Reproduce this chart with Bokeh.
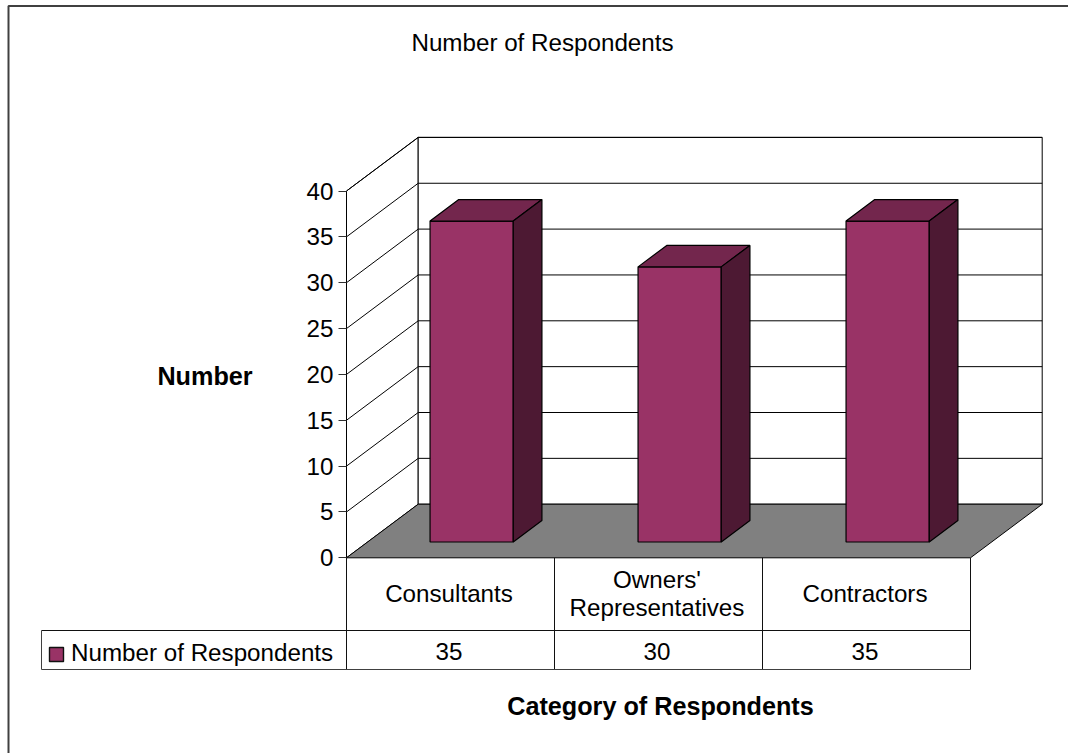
from bokeh.embed import file_html
from bokeh.models import FixedTicker, LinearAxis, Range1d
from bokeh.plotting import figure
from bokeh.resources import INLINE
from bokeh.core.properties import value

# Chart content
categories = ["Consultants", "Owners'\nRepresentatives", "Contractors"]
respondents = [35, 30, 35]
series_name = "Number of Respondents"
y_ticks = [0, 5, 10, 15, 20, 25, 30, 35, 40]
title = "Number of Respondents"
y_title = "Number"
x_title = "Category of Respondents"

# Colours
BAR_FRONT = "#993366"
BAR_SIDE = "#4d1933"
BAR_TOP = "#73264d"
FLOOR = "#808080"
INK = "#000000"
FONT = value("Liberation Sans")

# Page size and the oblique box: one category and one value unit in pixels
W, H = 1068, 753
LEFT, ZERO_Y = 346.0, 557.3
CAT_PX, UNIT_PX = 208.0, 9.17
DEPTH_X, DEPTH_Y = 71.7 / CAT_PX, 53.6 / UNIT_PX
BAR_WIDTH, BAR_D0, BAR_D1 = 0.40, 0.295, 0.695
N = len(categories)
Y_MAX = y_ticks[-1]


def project(x, v, d):
    """Oblique projection: d runs from the front (0) to the back wall (1)."""
    return x + d * DEPTH_X, v + d * DEPTH_Y


def quad(corners):
    pts = [project(*c) for c in corners]
    return [p[0] for p in pts], [p[1] for p in pts]


p = figure(
    width=W, height=H, output_backend="svg", toolbar_location=None,
    x_range=Range1d(-LEFT / CAT_PX, (W - LEFT) / CAT_PX),
    y_range=Range1d((ZERO_Y - H) / UNIT_PX, ZERO_Y / UNIT_PX),
    min_border=0, outline_line_color=None, background_fill_color="white",
    border_fill_color="white", x_axis_type=None, y_axis_type=None,
)
p.grid.visible = False

# Second coordinate system in page pixels, for the table and the titles
p.extra_x_ranges["page"] = Range1d(0, W)
p.extra_y_ranges["page"] = Range1d(H, 0)
page = dict(x_range_name="page", y_range_name="page")

# Chart-area border (top and left edges)
p.line([8, 8, W], [H, 5.5, 5.5], line_color="#404040", line_width=2, **page)

# Side wall and back wall
xs, ys = quad([(0, 0, 0), (0, 0, 1), (0, Y_MAX, 1), (0, Y_MAX, 0)])
p.patch(xs, ys, fill_color="white", line_color=INK, line_width=1)
xs, ys = quad([(0, 0, 1), (N, 0, 1), (N, Y_MAX, 1), (0, Y_MAX, 1)])
p.patch(xs, ys, fill_color="white", line_color=INK, line_width=1)

# Gridlines run across the side wall and along the back wall
for t in y_ticks[1:]:
    xs = [project(0, t, 0)[0], project(0, t, 1)[0], project(N, t, 1)[0]]
    ys = [project(0, t, 0)[1], project(0, t, 1)[1], project(N, t, 1)[1]]
    p.line(xs, ys, line_color=INK, line_width=1)

# Floor
xs, ys = quad([(0, 0, 0), (N, 0, 0), (N, 0, 1), (0, 0, 1)])
p.patch(xs, ys, fill_color=FLOOR, line_color=INK, line_width=1)

# Bars: front, top and side faces
for i, v in enumerate(respondents):
    x0 = i + 0.5 - BAR_WIDTH / 2
    x1 = i + 0.5 + BAR_WIDTH / 2
    xs, ys = quad([(x0, 0, BAR_D0), (x1, 0, BAR_D0), (x1, v, BAR_D0), (x0, v, BAR_D0)])
    p.patch(xs, ys, fill_color=BAR_FRONT, line_color=INK, line_width=1.2)
    xs, ys = quad([(x0, v, BAR_D0), (x1, v, BAR_D0), (x1, v, BAR_D1), (x0, v, BAR_D1)])
    p.patch(xs, ys, fill_color=BAR_TOP, line_color=INK, line_width=1.2)
    xs, ys = quad([(x1, 0, BAR_D0), (x1, 0, BAR_D1), (x1, v, BAR_D1), (x1, v, BAR_D0)])
    p.patch(xs, ys, fill_color=BAR_SIDE, line_color=INK, line_width=1.2)

# Value axis standing at the front-left corner of the box
axis = LinearAxis(
    fixed_location=0, bounds=(y_ticks[0], y_ticks[-1]),
    ticker=FixedTicker(ticks=y_ticks),
    major_tick_in=0, major_tick_out=8, minor_tick_in=0, minor_tick_out=0,
    major_tick_line_color="#303030", axis_line_color=INK,
    major_label_text_font="Liberation Sans", major_label_text_font_size="24.2px",
    major_label_text_color=INK, major_label_standoff=5,
)
p.add_layout(axis, "left")

# Data table under the floor
ROW_TOP, ROW_MID, ROW_BOTTOM = 557.3, 630.0, 669.0
TABLE_LEFT = 41.0
col_x = [LEFT + CAT_PX * i for i in range(N + 1)]
for cx in col_x:
    p.line([cx, cx], [ROW_TOP, ROW_BOTTOM], line_color="#111111", line_width=1, **page)
p.line([TABLE_LEFT, col_x[-1]], [ROW_MID, ROW_MID], line_color="#111111", line_width=1, **page)
p.line([TABLE_LEFT, TABLE_LEFT, col_x[-1]], [ROW_MID, ROW_BOTTOM, ROW_BOTTOM],
       line_color="#404040", line_width=1, **page)

centers = [LEFT + CAT_PX * (i + 0.5) - 1.5 for i in range(N)]
text_style = dict(text_font=FONT, text_color=INK, text_align="center",
                  text_baseline="middle", **page)
p.text(centers, [593] * N, text=categories, text_font_size="24.2px",
       text_line_height=1.05, **text_style)
p.text(centers, [651] * N, text=[str(v) for v in respondents], text_font_size="24.2px", **text_style)

# Legend key inside the table
p.quad(left=[49], right=[63], top=[647], bottom=[661], fill_color=BAR_FRONT,
       line_color="#111111", line_width=1.4, **page)
p.text([70.5], [652], text=[series_name], text_font=FONT, text_font_size="24.2px",
       text_color=INK, text_align="left", text_baseline="middle", **page)

# Titles
p.text([542], [41.5], text=[title], text_font_size="24.2px", **text_style)
p.text([204.5], [375], text=[y_title], text_font=FONT, text_font_style="bold",
       text_font_size="25.2px", text_color=INK, text_align="center",
       text_baseline="middle", **page)
p.text([660], [705.5], text=[x_title], text_font=FONT, text_font_style="bold",
       text_font_size="25.2px", text_color=INK, text_align="center",
       text_baseline="middle", **page)

open("out.html", "w").write(file_html(p, INLINE))
